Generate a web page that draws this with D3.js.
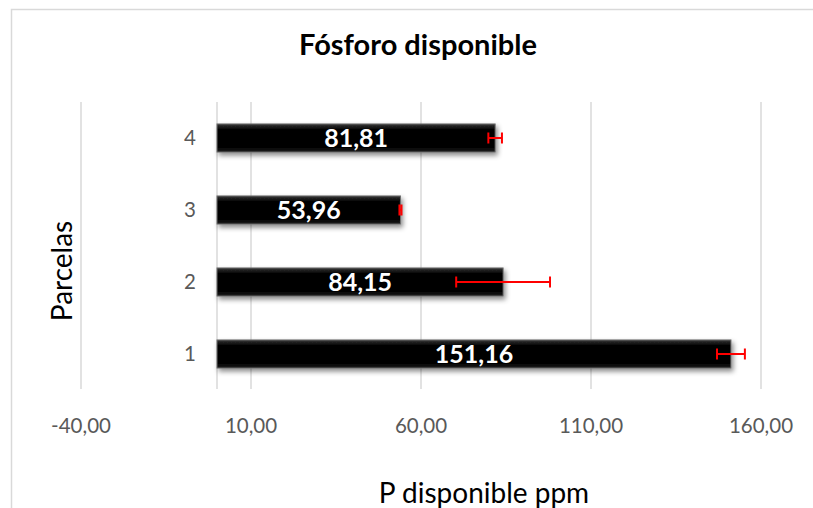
<!DOCTYPE html>
<html>
<head>
<meta charset="utf-8">
<script src="https://cdn.jsdelivr.net/npm/d3@7"></script>
<style>
  body { margin: 0; background: #fff; }
  svg { display: block; font-family: Lato, "Open Sans", sans-serif; }
</style>
</head>
<body>
<svg id="chart"></svg>
<script>
// ─── DATA ─────────────────────────────────────────────────────────────────────

const parcelas = ["1", "2", "3", "4"];
const valores = [151.16, 84.15, 53.96, 81.81];
const errores = [4.1, 13.8, 0.3, 2.0];
const ticks = [-40, 10, 60, 110, 160];

// ─── DIMENSIONS & SVG ─────────────────────────────────────────────────────────

const width = 813,
  height = 508;

// comma decimals, plain hyphen minus
const fmt = d3.formatLocale({
  decimal: ",", thousands: ".", grouping: [3], currency: ["", ""], minus: "-"
}).format(".2f");

const svg = d3.select("#chart").attr("width", width).attr("height", height);

const defs = svg.append("defs");

// soft shadow under the bars
const shadow = defs.append("filter").attr("id", "shadow")
  .attr("x", "-5%").attr("y", "-30%").attr("width", "115%").attr("height", "180%");
shadow.append("feDropShadow")
  .attr("dx", 2).attr("dy", 3).attr("stdDeviation", 2.5)
  .attr("flood-color", "#000").attr("flood-opacity", 0.45);

// bevel-ish gradient
const grad = defs.append("linearGradient").attr("id", "bevel")
  .attr("x1", 0).attr("y1", 0).attr("x2", 0).attr("y2", 1);
grad.append("stop").attr("offset", "0%").attr("stop-color", "#3a3a3a");
grad.append("stop").attr("offset", "18%").attr("stop-color", "#050505");
grad.append("stop").attr("offset", "82%").attr("stop-color", "#000");
grad.append("stop").attr("offset", "100%").attr("stop-color", "#1e1e1e");

// chart border
svg.append("rect")
  .attr("x", 11.5).attr("y", 9.5)
  .attr("width", 812).attr("height", 520)
  .attr("fill", "none").attr("stroke", "#d9d9d9").attr("stroke-width", 1.5);

// ─── SCALES ───────────────────────────────────────────────────────────────────

const x = d3.scaleLinear().domain([-40, 160]).range([81, 761]);

const y = d3.scaleBand()
  .domain(parcelas.slice().reverse())
  .range([102, 390])
  .paddingInner(0.61)
  .paddingOuter(0.305);

// ─── GRID & AXES ──────────────────────────────────────────────────────────────

svg.append("g")
  .selectAll("line")
  .data(ticks)
  .join("line")
  .attr("x1", (d) => x(d)).attr("x2", (d) => x(d))
  .attr("y1", 102).attr("y2", 389)
  .attr("stroke", "#d9d9d9").attr("stroke-width", 1.5);

// category axis at zero
svg.append("line")
  .attr("x1", x(0)).attr("x2", x(0))
  .attr("y1", 102).attr("y2", 389)
  .attr("stroke", "#d9d9d9").attr("stroke-width", 1.5);

svg.append("g")
  .selectAll("text")
  .data(ticks)
  .join("text")
  .attr("x", (d) => x(d))
  .attr("y", 433)
  .attr("text-anchor", "middle")
  .attr("fill", "#595959")
  .style("font-size", "20.5px")
  .text((d) => fmt(d));

svg.append("g")
  .selectAll("text")
  .data(parcelas)
  .join("text")
  .attr("x", 196)
  .attr("y", (d) => y(d) + y.bandwidth() / 2 + 7)
  .attr("text-anchor", "end")
  .attr("fill", "#595959")
  .style("font-size", "20.5px")
  .text((d) => d);

// ─── BARS ─────────────────────────────────────────────────────────────────────

const rows = parcelas.map((p, i) => ({ p, v: valores[i], e: errores[i] }));

svg.append("g")
  .selectAll("rect")
  .data(rows)
  .join("rect")
  .attr("x", x(0))
  .attr("y", (d) => y(d.p))
  .attr("width", (d) => x(d.v) - x(0))
  .attr("height", y.bandwidth())
  .attr("fill", "url(#bevel)")
  .attr("stroke", "#6e6e6e")
  .attr("stroke-width", 1)
  .attr("filter", "url(#shadow)");

svg.append("g")
  .selectAll("text")
  .data(rows)
  .join("text")
  .attr("x", (d) => (x(0) + x(d.v)) / 2)
  .attr("y", (d) => y(d.p) + y.bandwidth() / 2 + 9)
  .attr("text-anchor", "middle")
  .attr("fill", "#fff")
  .style("font-size", "25px")
  .style("font-weight", "bold")
  .text((d) => fmt(d.v));

// ─── ERROR BARS ───────────────────────────────────────────────────────────────

const err = svg.append("g")
  .attr("stroke", "#ff0000")
  .attr("stroke-width", 2);

rows.forEach((d) => {
  const cy = y(d.p) + y.bandwidth() / 2;
  err.append("line")
    .attr("x1", x(d.v - d.e)).attr("x2", x(d.v + d.e))
    .attr("y1", cy).attr("y2", cy);
  [d.v - d.e, d.v + d.e].forEach((v) => {
    err.append("line")
      .attr("x1", x(v)).attr("x2", x(v))
      .attr("y1", cy - 5.5).attr("y2", cy + 5.5);
  });
});

// ─── TITLES ───────────────────────────────────────────────────────────────────

svg.append("text")
  .attr("x", 418).attr("y", 55)
  .attr("text-anchor", "middle")
  .attr("fill", "#000")
  .style("font-size", "29px")
  .style("font-weight", "bold")
  .text("Fósforo disponible");

svg.append("text")
  .attr("x", 484).attr("y", 503)
  .attr("text-anchor", "middle")
  .attr("fill", "#000")
  .style("font-size", "28px")
  .text("P disponible ppm");

svg.append("text")
  .attr("transform", "translate(72,271) rotate(-90)")
  .attr("text-anchor", "middle")
  .attr("fill", "#000")
  .style("font-size", "28px")
  .text("Parcelas");
</script>
</body>
</html>
